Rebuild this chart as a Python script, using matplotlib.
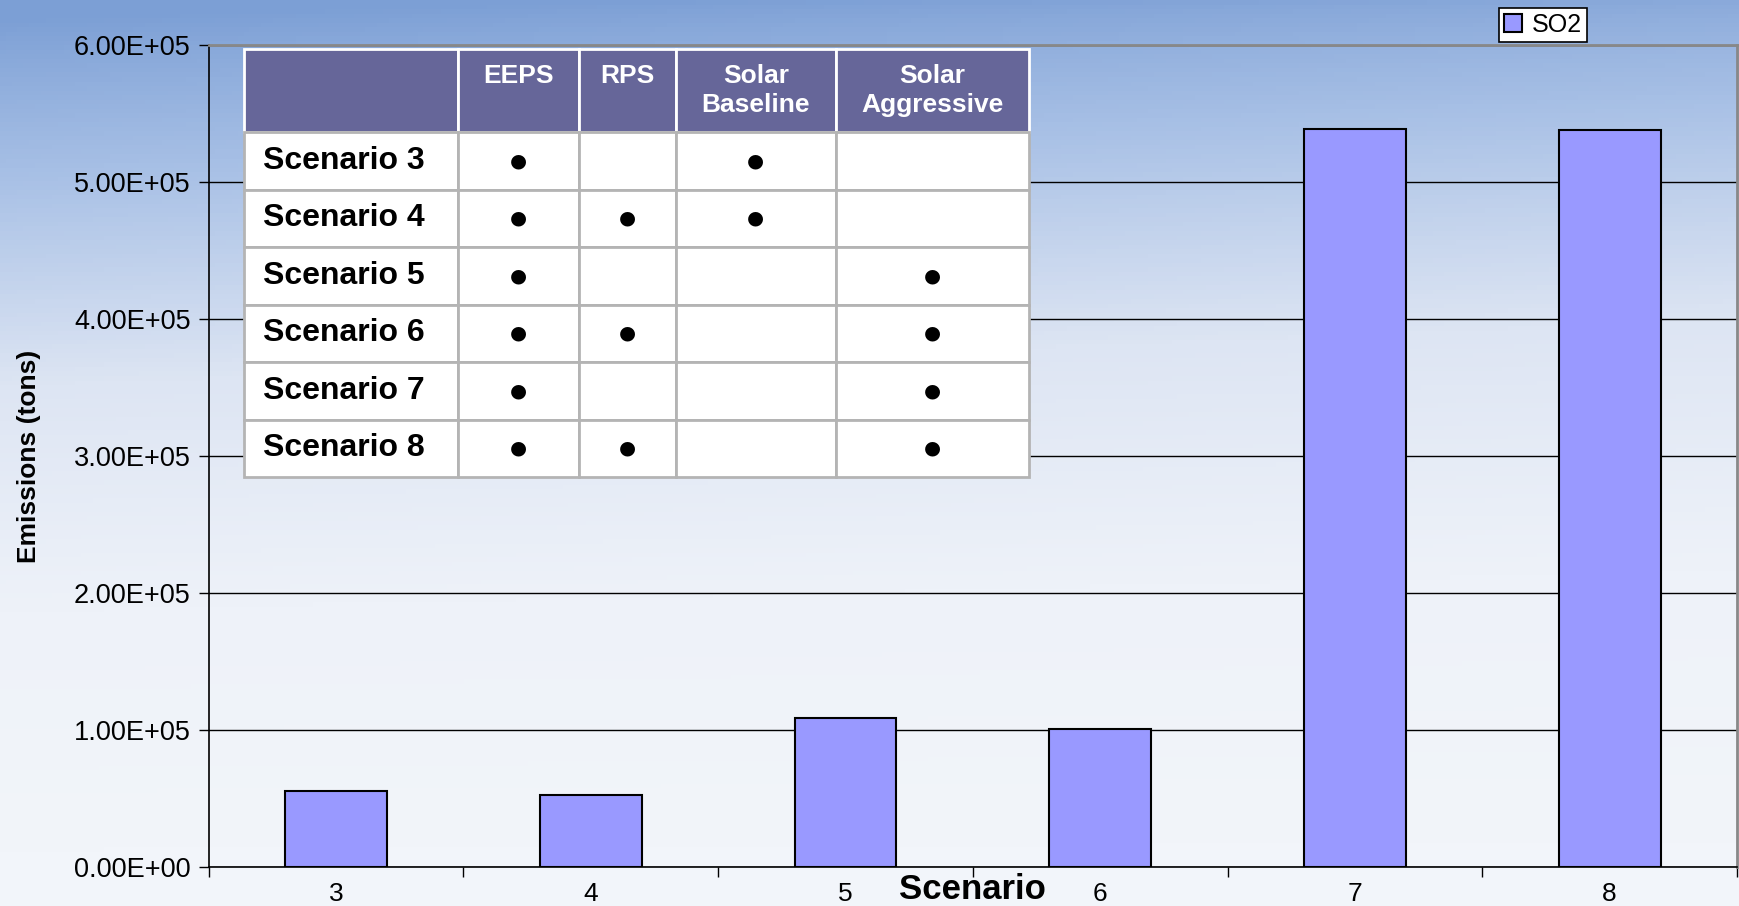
import numpy as np
import matplotlib
matplotlib.use("Agg")
import matplotlib.pyplot as plt
from matplotlib.colors import LinearSegmentedColormap

plt.rcParams['font.family'] = ['Liberation Sans', 'DejaVu Sans']

# data
scenarios = ['3', '4', '5', '6', '7', '8']
so2 = [55400, 52200, 108300, 100500, 539000, 538000]

policy_cols = ['EEPS', 'RPS', 'Solar\nBaseline', 'Solar\nAggressive']
row_names = ['Scenario 3', 'Scenario 4', 'Scenario 5', 'Scenario 6', 'Scenario 7', 'Scenario 8']
flags = [
    [1, 0, 1, 0],
    [1, 1, 1, 0],
    [1, 0, 0, 1],
    [1, 1, 0, 1],
    [1, 0, 0, 1],
    [1, 1, 0, 1],
]
y_ticks = [0, 100000, 200000, 300000, 400000, 500000, 600000]

fig = plt.figure(figsize=(17.4, 9.06), dpi=100)

# sky-like background gradient
bg = fig.add_axes([0, 0, 1, 1], zorder=-10)
yy = np.linspace(0, 1, 200)[:, None]
xx = np.linspace(0, 1, 300)[None, :]
shade = np.clip(0.08 + yy ** 0.8 * 0.97 - 0.12 * (1 - xx) * (1 - yy), 0, 1)
cmap = LinearSegmentedColormap.from_list('sky', ['#7c9fd5', '#a9c1e6', '#dde5f3', '#eef2f9', '#f2f5fa'])
bg.imshow(shade, cmap=cmap, aspect='auto', extent=[0, 1, 0, 1], origin='upper', vmin=0, vmax=1)
bg.axis('off')

ax = fig.add_axes([0.1199, 0.0434, 0.8784, 0.9064])
ax.patch.set_alpha(0)
x = np.arange(len(scenarios))
bars = ax.bar(x, so2, width=0.4, color='#9999ff', edgecolor='black', linewidth=1.5,
              label='SO2', zorder=3)
ax.set_xlim(-0.5, len(scenarios) - 0.5)
ax.set_ylim(0, 600000)
ax.set_yticks(y_ticks)
ax.set_yticklabels([f'{v:.2E}' for v in y_ticks], fontsize=19.5)
ax.yaxis.grid(True, color='black', linewidth=1.0, zorder=1)
ax.set_axisbelow(True)

# category labels between boundary ticks
ax.set_xticks(np.arange(len(scenarios) + 1) - 0.5)
ax.set_xticklabels([])
ax.set_xticks(x, minor=True)
ax.set_xticklabels(scenarios, minor=True, fontsize=19)
ax.tick_params(axis='x', which='minor', length=0, pad=11)
ax.tick_params(axis='x', which='major', length=7, width=1)
ax.tick_params(axis='y', length=7, width=1, pad=6)

for side in ['top', 'right']:
    ax.spines[side].set_color('#888888')
    ax.spines[side].set_linewidth(2)
for side in ['left', 'bottom']:
    ax.spines[side].set_color('black')
    ax.spines[side].set_linewidth(1.2)

ax.set_xlabel('Scenario', fontsize=25, fontweight='bold')
ax.xaxis.set_label_coords(0.5, -0.008)
ax.set_ylabel('Emissions (tons)', fontsize=19, fontweight='bold')
ax.yaxis.set_label_coords(-0.110, 0.5)

leg = fig.legend(handles=[bars], labels=['SO2'], loc='upper left',
                 bbox_to_anchor=(0.8615, 0.9914), fontsize=18, frameon=True,
                 fancybox=False, edgecolor='black', framealpha=1,
                 handlelength=0.7, handleheight=0.7, handletextpad=0.4,
                 borderpad=0.2, borderaxespad=0)
leg.get_frame().set_linewidth(1.2)

# scenario definition table
cell_text = [[name] + ['\u25cf' if f else '' for f in row] for name, row in zip(row_names, flags)]
header = [''] + [c if '\n' in c else c + '\n' for c in policy_cols]
col_w = [193, 109, 87, 144, 174]
tbl = ax.table(cellText=cell_text, colLabels=header, colWidths=col_w,
               cellLoc='center', bbox=[0.0232, 0.4743, 0.5135, 0.5217], zorder=10)
tbl.auto_set_font_size(False)
for (r, c), cell in tbl.get_celld().items():
    cell.set_linewidth(2)
    txt = cell.get_text()
    if r == 0:
        cell.set_height(75)
        cell.set_facecolor('#666699')
        cell.set_edgecolor('white')
        txt.set_color('white')
        txt.set_fontsize(19)
        txt.set_fontweight('bold')
        txt.set_linespacing(1.25)
    else:
        cell.set_height(51.7)
        cell.set_facecolor('white')
        cell.set_edgecolor('#b4b4b4')
        if c == 0:
            txt.set_fontsize(23)
            txt.set_fontweight('bold')
            txt.set_horizontalalignment('left')
            cell.PAD = 0.09
        else:
            txt.set_fontsize(14)
            txt.set_family(['DejaVu Sans'])

fig.savefig('out.png', dpi=100)
